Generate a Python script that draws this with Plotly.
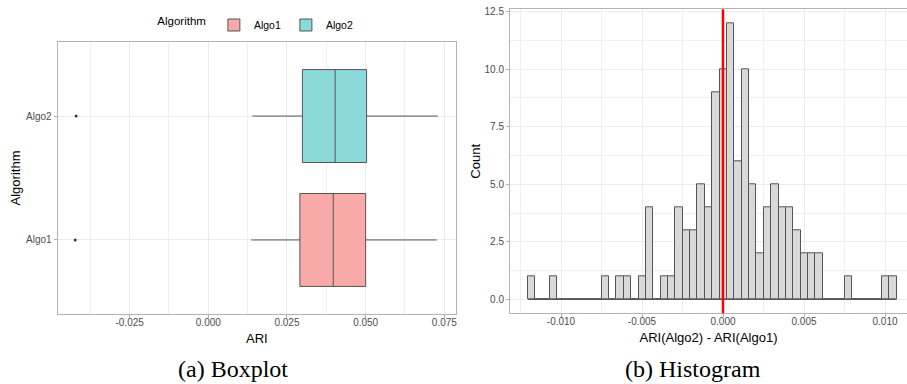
import plotly.graph_objects as go

# ---------------- data ----------------
algorithms = ["Algo1", "Algo2"]
box_q1 = [0.0291, 0.0299]
box_median = [0.0397, 0.0403]
box_q3 = [0.0500, 0.0503]
box_lower = [0.0136, 0.0140]
box_upper = [0.0726, 0.0729]
outlier_values = [-0.0423, -0.0420]

box_ticks = [-0.025, 0.0, 0.025, 0.05, 0.075]
box_ticktext = ["-0.025", "0.000", "0.025", "0.050", "0.075"]

hist_bin_start = -0.01204
hist_bin_width = 0.000455
hist_counts = [1, 0, 0, 1, 0, 0, 0, 0, 0, 0,
               1, 0, 1, 1, 0, 1, 4, 0, 1, 1,
               4, 3, 3, 5, 4, 9, 10, 12, 6, 10,
               5, 2, 4, 5, 4, 4, 3, 2, 2, 2,
               0, 0, 0, 1, 0, 0, 0, 0, 1, 1]
ref_value = 0.0

hist_xticks = [-0.010, -0.005, 0.0, 0.005, 0.010]
hist_xticktext = ["-0.010", "-0.005", "0.000", "0.005", "0.010"]
hist_yticks = [0, 2.5, 5, 7.5, 10, 12.5]
hist_yticktext = ["0.0", "2.5", "5.0", "7.5", "10.0", "12.5"]

fill_colors = {"Algo1": "#F8AAA8", "Algo2": "#8CD9DA"}

# ---------------- figure ----------------
W, H = 907, 384
fig = go.Figure()

for i, name in enumerate(algorithms):
    fig.add_trace(go.Box(
        y=[name], q1=[box_q1[i]], median=[box_median[i]], q3=[box_q3[i]],
        lowerfence=[box_lower[i]], upperfence=[box_upper[i]],
        orientation="h", name=name, width=0.75, whiskerwidth=0,
        fillcolor=fill_colors[name],
        line=dict(color="#555555", width=1),
        boxpoints=False, showlegend=True,
        xaxis="x", yaxis="y",
    ))
    fig.add_trace(go.Scatter(
        x=[outlier_values[i]], y=[name], mode="markers",
        marker=dict(color="#333333", size=3), showlegend=False,
        hoverinfo="skip", xaxis="x", yaxis="y",
    ))

centers = [hist_bin_start + (k + 0.5) * hist_bin_width for k in range(len(hist_counts))]
fig.add_trace(go.Bar(
    x=centers, y=hist_counts, width=hist_bin_width,
    marker=dict(color="#D9D9D9", line=dict(color="#555555", width=1)),
    showlegend=False, xaxis="x2", yaxis="y2",
))
hist_end = hist_bin_start + len(hist_counts) * hist_bin_width
fig.add_trace(go.Scatter(
    x=[hist_bin_start, hist_end], y=[0, 0], mode="lines",
    line=dict(color="#555555", width=1), showlegend=False,
    hoverinfo="skip", xaxis="x2", yaxis="y2",
))

fig.add_shape(type="line", xref="x2", yref="y2 domain",
              x0=ref_value, x1=ref_value, y0=0, y1=1,
              line=dict(color="#FF0000", width=2.5))

tickfont = dict(family="Liberation Sans, Arial", size=10, color="#4D4D4D")
titlefont = dict(family="Liberation Sans, Arial", size=13, color="#000000")
axis_common = dict(
    showline=True, linecolor="#B3B3B3", linewidth=1,
    ticks="outside", ticklen=3, tickcolor="#B3B3B3",
    gridcolor="#EBEBEB", gridwidth=1, zeroline=False,
    tickfont=tickfont, automargin=False,
)

fig.update_layout(
    width=W, height=H,
    margin=dict(l=0, r=0, t=0, b=0),
    paper_bgcolor="white", plot_bgcolor="white",
    boxmode="overlay", bargap=0,
    font=dict(family="Liberation Sans, Arial", color="#000000"),
    xaxis=dict(
        domain=[57.7 / W, 456 / W], anchor="y",
        range=[-0.04786, 0.07871], tickvals=box_ticks, ticktext=box_ticktext,
        minor=dict(dtick=0.0125, tick0=0, showgrid=True, gridcolor="#F0F0F0", gridwidth=0.6, ticks=""),
        mirror=True, title=dict(text="ARI", font=titlefont, standoff=6),
        ticklabelstandoff=-4,
        **axis_common,
    ),
    yaxis=dict(
        domain=[1 - 314.3 / H, 1 - 41.7 / H], anchor="x",
        type="category", categoryorder="array", categoryarray=algorithms,
        range=[-0.6, 1.6], mirror=True,
        title=dict(text="Algorithm", font=titlefont, standoff=2),
        **axis_common,
    ),
    xaxis2=dict(
        domain=[510 / W, 1.0], anchor="y2",
        range=[-0.013148, 0.011358], tickvals=hist_xticks, ticktext=hist_xticktext,
        minor=dict(dtick=0.0025, tick0=0, showgrid=True, gridcolor="#F0F0F0", gridwidth=0.6, ticks=""),
        mirror=True, title=dict(text="ARI(Algo2) - ARI(Algo1)", font=titlefont, standoff=6),
        ticklabelstandoff=-4,
        **axis_common,
    ),
    yaxis2=dict(
        domain=[1 - 313.3 / H, 1 - 9.3 / H], anchor="x2",
        range=[-0.6, 12.6], tickvals=hist_yticks, ticktext=hist_yticktext,
        minor=dict(dtick=1.25, tick0=0, showgrid=True, gridcolor="#F0F0F0", gridwidth=0.6, ticks=""),
        mirror=False, title=dict(text="Count", font=titlefont, standoff=0),
        **axis_common,
    ),
    legend=dict(
        orientation="h", x=256.8 / W, xanchor="center", y=1 - 25 / H, yanchor="middle",
        title=dict(text="Algorithm", font=dict(size=11.5, color="#000000")),
        font=dict(size=10.5, color="#000000"), bgcolor="rgba(0,0,0,0)",
        traceorder="normal",
    ),
)

fig.add_annotation(text="(a) Boxplot", x=233.3 / W, y=1 - 369 / H, xref="paper", yref="paper",
                   xanchor="center", yanchor="middle",
                   showarrow=False, font=dict(family="Liberation Serif", size=24, color="#000000"))
fig.add_annotation(text="(b) Histogram", x=692.5 / W, y=1 - 369 / H, xref="paper", yref="paper",
                   xanchor="center", yanchor="middle",
                   showarrow=False, font=dict(family="Liberation Serif", size=24, color="#000000"))

fig.write_html("out.html")
